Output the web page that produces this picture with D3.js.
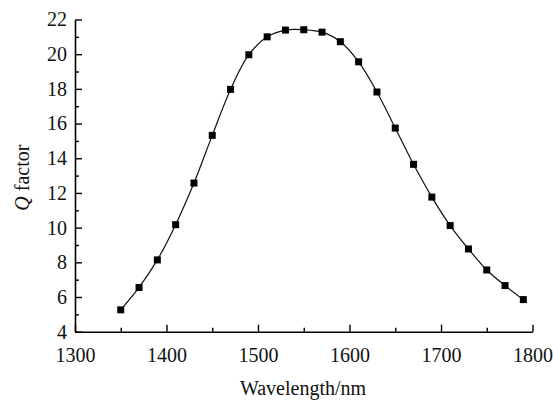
<html>
<head>
<script src="https://d3js.org/d3.v7.min.js"></script>
<style>
  body { margin: 0; background: #fff; }
  svg text { font-family: "Liberation Serif", "Times New Roman", serif !important; }
</style>
</head>
<body>
<svg id="chart" width="553" height="403"></svg>
<script>
// data
const wavelength = [1350, 1370, 1390, 1410, 1430, 1450, 1470, 1490, 1510, 1530, 1550, 1570,
                    1590, 1610, 1630, 1650, 1670, 1690, 1710, 1730, 1750, 1770, 1790];
const qFactor = [5.26, 6.55, 8.14, 10.17, 12.57, 15.32, 17.97, 19.97, 21.0, 21.39, 21.41, 21.27,
                 20.72, 19.56, 17.82, 15.74, 13.65, 11.76, 10.12, 8.77, 7.56, 6.66, 5.85];
const xTicks = [1300, 1400, 1500, 1600, 1700, 1800];
const xMinor = [1350, 1450, 1550, 1650, 1750];
const yTicks = [4, 6, 8, 10, 12, 14, 16, 18, 20, 22];
const yMinor = [5, 7, 9, 11, 13, 15, 17, 19, 21];

const svg = d3.select("#chart");
const mLeft = 75, mRight = 532.5, mTop = 19.5, mBottom = 331.7;
const fs = "20px";

const x = d3.scaleLinear().domain([1300, 1800]).range([mLeft, mRight]);
const y = d3.scaleLinear().domain([4, 22]).range([mBottom, mTop]);

// x axis
svg.append("g").attr("transform", "translate(0," + mBottom + ")")
  .call(d3.axisBottom(x).tickValues(xTicks).tickFormat(d3.format("d"))
    .tickSizeInner(-7).tickSizeOuter(0).tickPadding(16));
svg.append("g").attr("transform", "translate(0," + mBottom + ")")
  .call(d3.axisBottom(x).tickValues(xMinor).tickFormat("").tickSizeInner(-4).tickSizeOuter(0))
  .select(".domain").remove();

// y axis
svg.append("g").attr("transform", "translate(" + mLeft + ",0)")
  .call(d3.axisLeft(y).tickValues(yTicks)
    .tickSizeInner(-7).tickSizeOuter(0).tickPadding(8));
svg.append("g").attr("transform", "translate(" + mLeft + ",0)")
  .call(d3.axisLeft(y).tickValues(yMinor).tickFormat("").tickSizeInner(-4).tickSizeOuter(0))
  .select(".domain").remove();

svg.selectAll("g").attr("font-family", null);
svg.selectAll(".domain").attr("stroke", "#000").attr("stroke-width", 1.6);
svg.selectAll(".tick line").attr("stroke", "#000").attr("stroke-width", 1.4);
svg.selectAll(".tick text").style("font-size", fs).attr("fill", "#111");

// axis titles
svg.append("text")
  .attr("x", 303).attr("y", 395)
  .attr("text-anchor", "middle").style("font-size", fs).attr("fill", "#111")
  .text("Wavelength/nm");

const yl = svg.append("text")
  .attr("transform", "translate(28.5," + ((mTop + mBottom) / 2 + 2) + ") rotate(-90)")
  .attr("text-anchor", "middle").style("font-size", fs).attr("fill", "#111");
yl.append("tspan").attr("font-style", "italic").text("Q");
yl.append("tspan").text(" factor");

// line + markers
const pts = wavelength.map((w, i) => [w, qFactor[i]]);
svg.append("path")
  .datum(pts)
  .attr("fill", "none").attr("stroke", "#111").attr("stroke-width", 1.2)
  .attr("d", d3.line().x(d => x(d[0])).y(d => y(d[1])).curve(d3.curveCatmullRom));

const s = 7;
svg.selectAll("rect.pt").data(pts).join("rect")
  .attr("class", "pt")
  .attr("x", d => x(d[0]) - s / 2).attr("y", d => y(d[1]) - s / 2)
  .attr("width", s).attr("height", s).attr("fill", "#000");
</script>
</body>
</html>
